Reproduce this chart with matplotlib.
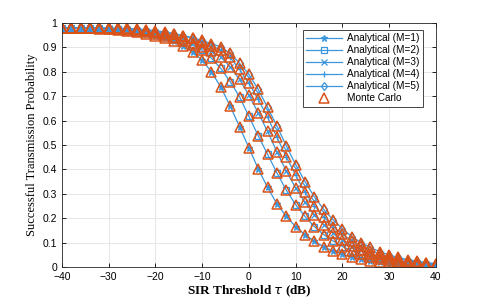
import numpy as np
import matplotlib
matplotlib.use("Agg")
import matplotlib.pyplot as plt

# SIR threshold values (dB)
sir_db = np.arange(-40, 41, 2)

# success probability, one list per M
p_m1 = [0.980, 0.980, 0.979, 0.978, 0.976, 0.974, 0.971, 0.967, 0.962, 0.956,
        0.948, 0.938, 0.926, 0.908, 0.882, 0.848, 0.800, 0.737, 0.660, 0.575,
        0.489, 0.402, 0.326, 0.259, 0.208, 0.165, 0.133, 0.106, 0.083, 0.066,
        0.052, 0.041, 0.032, 0.025, 0.020, 0.016, 0.012, 0.010, 0.008, 0.006, 0.005]
p_m2 = [0.980, 0.980, 0.980, 0.979, 0.978, 0.977, 0.975, 0.972, 0.968, 0.963,
        0.957, 0.949, 0.938, 0.925, 0.909, 0.889, 0.856, 0.814, 0.760, 0.698,
        0.618, 0.538, 0.462, 0.386, 0.315, 0.256, 0.208, 0.166, 0.133, 0.107,
        0.084, 0.066, 0.052, 0.041, 0.032, 0.025, 0.020, 0.016, 0.012, 0.010, 0.008]
p_m3 = [0.980, 0.980, 0.980, 0.980, 0.979, 0.978, 0.977, 0.975, 0.972, 0.968,
        0.962, 0.955, 0.945, 0.933, 0.918, 0.903, 0.886, 0.862, 0.821, 0.769,
        0.705, 0.632, 0.556, 0.472, 0.393, 0.325, 0.265, 0.215, 0.174, 0.138,
        0.110, 0.087, 0.068, 0.054, 0.042, 0.033, 0.026, 0.020, 0.016, 0.012, 0.010]
p_m4 = [0.980, 0.980, 0.980, 0.980, 0.980, 0.979, 0.978, 0.976, 0.974, 0.970,
        0.965, 0.960, 0.955, 0.947, 0.937, 0.924, 0.908, 0.889, 0.859, 0.810,
        0.753, 0.687, 0.614, 0.532, 0.452, 0.377, 0.306, 0.252, 0.206, 0.166,
        0.134, 0.107, 0.085, 0.067, 0.053, 0.042, 0.033, 0.026, 0.020, 0.016, 0.012]
p_m5 = [0.980, 0.980, 0.980, 0.980, 0.980, 0.980, 0.979, 0.978, 0.976, 0.973,
        0.969, 0.964, 0.957, 0.949, 0.940, 0.929, 0.916, 0.902, 0.876, 0.835,
        0.790, 0.728, 0.654, 0.578, 0.497, 0.420, 0.350, 0.288, 0.236, 0.194,
        0.157, 0.125, 0.100, 0.080, 0.063, 0.049, 0.039, 0.030, 0.024, 0.018, 0.014]

curves = [p_m1, p_m2, p_m3, p_m4, p_m5]
labels = ["Analytical (M=1)", "Analytical (M=2)", "Analytical (M=3)",
          "Analytical (M=4)", "Analytical (M=5)"]
markers = ["*", "s", "x", "+", "d"]

blue = "#3A96DD"
orange = "#D95319"

fig = plt.figure(figsize=(4.8, 3.0), dpi=100)
ax = fig.add_axes([0.129, 0.11, 0.779, 0.813])

for p, lab, mk in zip(curves, labels, markers):
    ax.plot(sir_db, p, color=blue, lw=0.9, marker=mk, ms=4.5,
            mfc="none" if mk in ("s", "d") else blue, mew=0.9, label=lab)

# Monte Carlo points on top of every curve
for i, p in enumerate(curves):
    ax.plot(sir_db, p, ls="none", marker="^", ms=6.5, mfc="none",
            mec=orange, mew=1.1, label="Monte Carlo" if i == 0 else None)

ax.set_xlim(-40, 40)
ax.set_ylim(0, 1)
ax.set_xticks(np.arange(-40, 41, 10))
ax.set_yticks(np.arange(0, 1.01, 0.1))
ax.set_yticklabels(["0", "0.1", "0.2", "0.3", "0.4", "0.5", "0.6", "0.7", "0.8", "0.9", "1"])
ax.tick_params(direction="in", labelsize=7.5, length=3, width=0.6, top=True, right=True,
               labeltop=False, labelright=False)
for lbl in ax.get_xticklabels() + ax.get_yticklabels():
    lbl.set_family("Liberation Sans")

ax.grid(True, color="#E6E6E6", lw=0.7)
ax.set_axisbelow(True)
for s in ax.spines.values():
    s.set_linewidth(0.6)
    s.set_color("#262626")

ax.set_xlabel(r"SIR Threshold $\tau$ (dB)", family="Liberation Serif",
              fontweight="bold", fontsize=9.5, labelpad=1)
ax.set_ylabel("Successful Transmission Probability", family="Liberation Serif",
              fontsize=9, labelpad=3)

leg = ax.legend(loc="upper right", bbox_to_anchor=(0.98, 0.993),
                prop={"family": "Liberation Sans", "size": 7.2},
                fancybox=False, edgecolor="#262626", framealpha=1,
                handlelength=3.6, borderpad=0.35, labelspacing=0.2, handletextpad=0.5)
leg.get_frame().set_linewidth(0.6)

fig.savefig("out.png", dpi=100)
